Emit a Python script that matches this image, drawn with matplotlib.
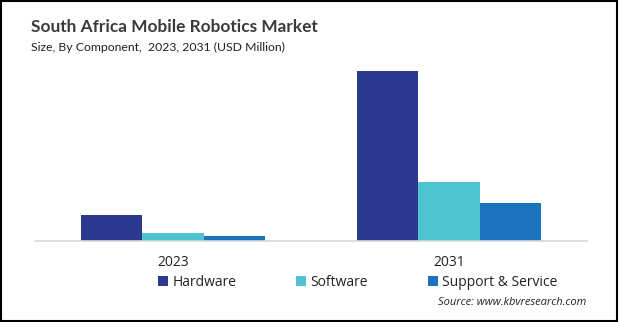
import matplotlib
matplotlib.use("Agg")
import matplotlib.pyplot as plt
from matplotlib.patches import Rectangle
import numpy as np

plt.rcParams['font.family'] = ['Open Sans', 'DejaVu Sans']

years = ["2023", "2031"]
components = ["Hardware", "Software", "Support & Service"]
hardware = [2.6, 17.0]
software = [0.8, 5.9]
support = [0.5, 3.8]
colors = ["#2B3990", "#4FC3CF", "#1C75BC"]

fig = plt.figure(figsize=(6.19, 3.22), dpi=100)
ax = fig.add_axes([0.0565, 0.2516, 0.8915, 0.562])

x = np.arange(len(years))
w = 0.223
for i, (vals, c, name) in enumerate(zip([hardware, software, support], colors, components)):
    ax.bar(x + (i - 1) * w, vals, width=w, color=c, label=name, zorder=2)

ax.set_xlim(-0.5, 1.5)
ax.set_ylim(0, 18.1)
for s in ["top", "right", "left"]:
    ax.spines[s].set_visible(False)
ax.spines["bottom"].set_color("#d9d9d9")
ax.spines["bottom"].set_linewidth(1.2)
ax.set_yticks([])
ax.set_xticks(x)
ax.set_xticklabels(years, fontsize=10, color="#222222")
ax.tick_params(axis="x", length=0, pad=10)

leg = fig.legend(loc="center", bbox_to_anchor=(0.578, 0.123), ncol=3, frameon=False,
                 fontsize=10, handlelength=0.75, handleheight=0.75, handletextpad=0.3,
                 columnspacing=4.3)
for t in leg.get_texts():
    t.set_color("#222222")

fig.text(0.05, 0.915, "South Africa Mobile Robotics Market", fontsize=12.4, fontweight="bold",
         color="#3a3a3a", va="center", ha="left", family=["Lato", "DejaVu Sans"])
fig.text(0.05, 0.853, "Size, By Component,  2023, 2031 (USD Million)", fontsize=8.8,
         color="#222222", va="center", ha="left", family=["Lato", "DejaVu Sans"])
fig.text(0.948, 0.062, "Source: www.kbvresearch.com", fontsize=8, style="italic",
         color="#222222", va="center", ha="right")

fig.patches.append(Rectangle((0.002, 0.004), 0.994, 0.992, transform=fig.transFigure,
                             fill=False, edgecolor="black", linewidth=1.5))

fig.savefig("out.png", dpi=100)
